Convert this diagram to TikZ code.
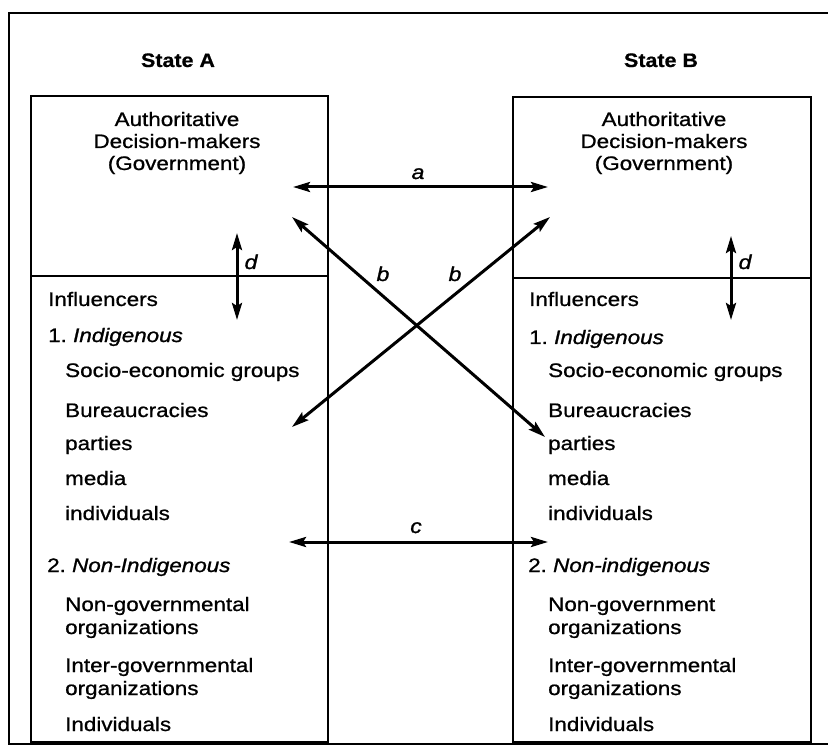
\documentclass[tikz,border=0pt]{standalone}
\usepackage{fontspec}
\setmainfont{Liberation Sans}[FakeStretch=1.15,FakeBold=0.9,BoldFeatures={FakeStretch=1.1,FakeBold=0.6},ItalicFeatures={FakeBold=1.2}]
\usetikzlibrary{arrows.meta}
\frenchspacing
\begin{document}
\begin{tikzpicture}[x=1pt,y=-1pt,
  frame/.style={line width=1.6pt},
  boxline/.style={line width=2pt},
  tip/.tip={Stealth[length=17pt,width=10pt,inset=3pt]},
  link/.style={line width=3pt,tip-tip},
  txt/.style={anchor=base west,inner sep=0pt,font=\fontsize{19.5}{22}\selectfont},
  ctxt/.style={anchor=base,inner sep=0pt,font=\fontsize{19.5}{22}\selectfont},
  head/.style={anchor=base,inner sep=0pt,font=\fontsize{19.5}{22}\selectfont\bfseries},
  lbl/.style={anchor=base,inner sep=0pt,font=\fontsize{20}{22}\selectfont\itshape}]
\useasboundingbox (0,0) rectangle (828,746);
\fill[white] (0,0) rectangle (828,746);
% outer frame
\draw[frame] (828,13) -- (9,13) -- (9,744) -- (828,744);
% state boxes
\draw[boxline] (31,96) rectangle (328,742);
\draw[boxline] (31,276) -- (328,276);
\draw[boxline] (513,97) rectangle (811,742);
\draw[boxline] (513,278) -- (811,278);
% headings
\node[head] (hA) at (178,67) {State A};
\node[head] (hB) at (661,67) {State B};
% government text
\node[ctxt] (gA1) at (177,126) {Authoritative};
\node[ctxt] (gA2) at (177,148) {Decision-makers};
\node[ctxt] (gA3) at (177,170) {(Government)};
\node[ctxt] (gB1) at (664,126) {Authoritative};
\node[ctxt] (gB2) at (664,148) {Decision-makers};
\node[ctxt] (gB3) at (664,170) {(Government)};
% influencers A
\node[txt] (iA0) at (48,306) {Influencers};
\node[txt] (iA1) at (48,342) {1. \textit{Indigenous}};
\node[txt] (iA2) at (65,377) {Socio-economic groups};
\node[txt] (iA3) at (65,417) {Bureaucracies};
\node[txt] (iA4) at (65,450) {parties};
\node[txt] (iA5) at (65,485) {media};
\node[txt] (iA6) at (65,520) {individuals};
\node[txt] (nA0) at (47,572) {2. \textit{Non-Indigenous}};
\node[txt] (nA1) at (65,611) {Non-governmental};
\node[txt] (nA2) at (65,634) {organizations};
\node[txt] (nA3) at (65,672) {Inter-governmental};
\node[txt] (nA4) at (65,695) {organizations};
\node[txt] (nA5) at (65,731) {Individuals};
% influencers B
\node[txt] (iB0) at (529,306) {Influencers};
\node[txt] (iB1) at (529,344) {1. \textit{Indigenous}};
\node[txt] (iB2) at (548,377) {Socio-economic groups};
\node[txt] (iB3) at (548,417) {Bureaucracies};
\node[txt] (iB4) at (548,450) {parties};
\node[txt] (iB5) at (548,485) {media};
\node[txt] (iB6) at (548,520) {individuals};
\node[txt] (nB0) at (528,572) {2. \textit{Non-indigenous}};
\node[txt] (nB1) at (548,611) {Non-government};
\node[txt] (nB2) at (548,634) {organizations};
\node[txt] (nB3) at (548,672) {Inter-governmental};
\node[txt] (nB4) at (548,695) {organizations};
\node[txt] (nB5) at (548,731) {Individuals};
% connector end points
\coordinate (aL) at (293,187);
\coordinate (aR) at (548,187);
\coordinate (b1s) at (292,217);
\coordinate (b1e) at (545,437);
\coordinate (b2s) at (550,217);
\coordinate (b2e) at (292,427);
\coordinate (cL) at (289,542);
\coordinate (cR) at (548,542);
\coordinate (dAt) at (237,233);
\coordinate (dAb) at (237,320);
\coordinate (dBt) at (731,236);
\coordinate (dBb) at (731,320);
% connectors
\draw[link] (aL) -- (aR);
\draw[link] (b1s) -- (b1e);
\draw[link] (b2s) -- (b2e);
\draw[link] (cL) -- (cR);
\draw[link] (dAt) -- (dAb);
\draw[link] (dBt) -- (dBb);
% connector labels
\node[lbl] (la) at (418,179) {a};
\node[lbl] (lb1) at (383,281) {b};
\node[lbl] (lb2) at (455,281) {b};
\node[lbl] (lc) at (416,533) {c};
\node[lbl] (ldA) at (251,269) {d};
\node[lbl] (ldB) at (745,269) {d};
\end{tikzpicture}
\end{document}
